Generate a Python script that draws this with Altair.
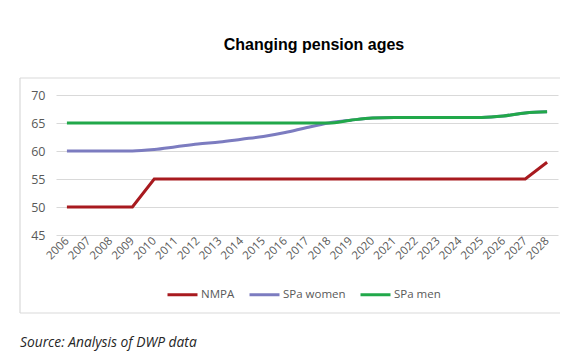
import altair as alt
import pandas as pd

years = [str(y) for y in range(2006, 2029)]
nmpa = [50, 50, 50, 50, 55, 55, 55, 55, 55, 55, 55, 55, 55, 55, 55, 55, 55, 55, 55, 55, 55, 55, 58]
spa_women = [60, 60, 60, 60, 60.25, 60.75, 61.25, 61.6, 62.1, 62.6, 63.3, 64.2, 65,
             65.5, 65.9, 66, 66, 66, 66, 66, 66.25, 66.8, 67]
spa_men = [65, 65, 65, 65, 65, 65, 65, 65, 65, 65, 65, 65, 65,
           65.5, 65.9, 66, 66, 66, 66, 66, 66.25, 66.8, 67]
series = ["NMPA", "SPa women", "SPa men"]
colors = ["#A81A1F", "#7C7CC0", "#21A84A"]
y_ticks = [45, 50, 55, 60, 65, 70]
title = "Changing pension ages"
source = "Source: Analysis of DWP data"

def frame(name, vals):
    return pd.DataFrame({"year": years, "value": vals, "series": name})

color = alt.Color(
    "series:N",
    scale=alt.Scale(domain=series, range=colors),
    legend=alt.Legend(
        title=None, orient="none", direction="horizontal",
        legendX=110, legendY=183,
        symbolType="stroke", symbolSize=900, symbolStrokeWidth=3,
        labelFont="Open Sans", labelFontSize=11.5, labelColor="#595959",
        columnPadding=8, labelOffset=2,
    ),
)

x = alt.X("year:O", scale=alt.Scale(type="point", padding=0.5),
          axis=alt.Axis(title=None, labelAngle=-45, labelAlign="right", labelBaseline="middle",
                        labelFont="Open Sans", labelFontSize=11.5, labelColor="#595959",
                        ticks=False, domain=False, grid=False, labelPadding=4))
y = alt.Y("value:Q", scale=alt.Scale(domain=[45, 70], nice=False, zero=False),
          axis=alt.Axis(title=None, values=y_ticks, labelFont="Open Sans", labelFontSize=12.5,
                        labelColor="#595959", ticks=False, domain=False, grid=True,
                        gridColor="#d9d9d9", gridWidth=1, labelPadding=11))

def line(name, vals, interp):
    return alt.Chart(frame(name, vals)).mark_line(strokeWidth=3, interpolate=interp).encode(
        x=x, y=y, color=color)

edge = pd.DataFrame({"b": [1]})
border_style = dict(color="#d9d9d9", strokeWidth=1.2)
top_edge = alt.Chart(edge).mark_rule(**border_style).encode(
    x=alt.value(-36), x2=alt.value(504), y=alt.value(-17))
bottom_edge = alt.Chart(edge).mark_rule(**border_style).encode(
    x=alt.value(-36), x2=alt.value(504), y=alt.value(218))
left_edge = alt.Chart(edge).mark_rule(**border_style).encode(
    x=alt.value(-36), y=alt.value(-17), y2=alt.value(218))

src = alt.Chart(pd.DataFrame({"t": [source]})).mark_text(
    font="Open Sans", fontStyle="italic", fontSize=13.8, color="#262626",
    align="left", baseline="middle").encode(
    text="t:N", x=alt.value(-36), y=alt.value(248))

chart = alt.layer(
    top_edge, bottom_edge, left_edge,
    line("NMPA", nmpa, "linear"),
    line("SPa women", spa_women, "monotone"),
    line("SPa men", spa_men, "monotone"),
    src,
).properties(
    width=502, height=140,
    title=alt.TitleParams(title, font="Liberation Sans", fontSize=16, fontWeight="bold",
                          color="#000000", anchor="middle", baseline="alphabetic",
                          offset=11, dx=7),
    autosize=alt.AutoSizeParams(type="none"),
    padding={"left": 48, "top": 87, "right": 18, "bottom": 118},
).configure_view(stroke=None)

chart.save("out.html", embed_options={"renderer": "svg", "actions": False})
